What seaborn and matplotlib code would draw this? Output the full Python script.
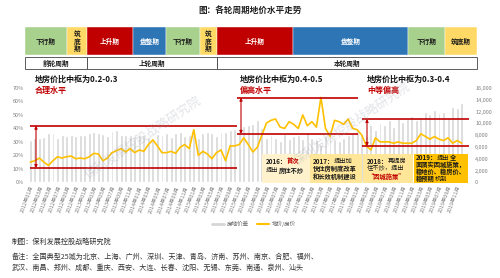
import matplotlib
matplotlib.use('Agg')
import numpy as np
import pandas as pd
import seaborn as sns
import matplotlib.pyplot as plt
from matplotlib.patches import Rectangle
from matplotlib.lines import Line2D

# ---------------- data ----------------
years = [2012, 2013, 2014, 2015, 2016, 2017, 2018, 2019]
months = [f"{y}年{m:02d}月" for y in years for m in range(1, 13)]

# grey bars (right axis)
price_gap = [
    7100, 7600, 7500, 7700, 8300, 8400, 7600, 8000, 7900, 8100, 7800, 8000,
    8000, 8300, 8500, 8400, 8200, 7900, 8700, 8800, 8100, 8100, 8000, 7900,
    8100, 8000, 7700, 7500, 8200, 8000, 8300, 7700, 8300, 8600, 7800, 8100,
    8600, 7600, 8300, 8600, 8400, 7900, 8600, 8500, 8900, 9000, 9100, 9600,
    9700, 9900, 10600, 9200, 7500, 8000, 7600, 7000, 8200, 7400, 7800, 8000,
    7300, 8500, 7600, 7200, 6500, 7800, 8200, 7400, 7000, 7600, 8100, 8400,
    8800, 8200, 7900, 9700, 8900, 10100, 9800, 10600, 9300, 10900, 10200, 10800,
    11300, 10600, 11000, 12000, 11600, 12200, 11800, 12000, 10900, 12800, 12600, 13500,
]
# yellow line (left axis)
land_house_ratio = [
    0.15, 0.16, 0.18, 0.15, 0.125, 0.16, 0.19, 0.18, 0.19, 0.195, 0.175, 0.18,
    0.175, 0.19, 0.215, 0.21, 0.16, 0.18, 0.22, 0.235, 0.25, 0.225, 0.25, 0.22,
    0.24, 0.23, 0.28, 0.315, 0.27, 0.22, 0.22, 0.23, 0.215, 0.26, 0.28, 0.25,
    0.39, 0.20, 0.23, 0.21, 0.175, 0.22, 0.24, 0.16, 0.27, 0.27, 0.28, 0.33,
    0.28, 0.225, 0.26, 0.35, 0.44, 0.46, 0.47, 0.41, 0.40, 0.45, 0.43, 0.40,
    0.50, 0.42, 0.45, 0.41, 0.63, 0.40, 0.34, 0.46, 0.45, 0.43, 0.47, 0.40,
    0.39, 0.35, 0.27, 0.24, 0.33, 0.30, 0.30, 0.30, 0.29, 0.30, 0.29, 0.29,
    0.29, 0.31, 0.36, 0.34, 0.32, 0.34, 0.32, 0.31, 0.33, 0.29, 0.31, 0.29,
]

title = "图：各轮周期地价水平走势"
phase_names = ['下行期', '筑底期', '上升期', '盘整期', '下行期', '筑底期', '上升期', '盘整期', '下行期', '筑底期']
cycle_names = ['前轮周期', '上轮周期', '本轮周期']
left_ticks = [0, 0.1, 0.2, 0.3, 0.4, 0.5, 0.6, 0.7]
right_ticks = [0, 2000, 4000, 6000, 8000, 10000, 12000, 14000, 16000]
legend_labels = ['房地价差', '地价/房价']
regime_titles = ['地房价比中枢为0.2-0.3', '地房价比中枢为0.4-0.5', '地房价比中枢为0.3-0.4']
regime_levels = ['合理水平', '偏高水平', '中等偏高']
regime_bounds = [(0.106, 0.42), (0.36, 0.628), (0.27, 0.47)]
footer = ["制图：保利发展控股战略研究院",
          "备注：全国典型25城为北京、上海、广州、深圳、天津、青岛、济南、苏州、南京、合肥、福州、",
          "武汉、南昌、郑州、成都、重庆、西安、大连、长春、沈阳、无锡、东莞、南通、泉州、汕头"]
watermark = "保利发展控股战略研究院"

# ---------------- layout / styles ----------------
FAM = ['Noto Sans CJK SC', 'DejaVu Sans']
sns.set_theme(style='white')
plt.rcParams['font.family'] = FAM
plt.rcParams['axes.unicode_minus'] = False

W, H = 500, 278
fig = plt.figure(figsize=(W / 100, H / 100), dpi=100)
fig.patch.set_facecolor('white')


def X(px):
    return px / W


def Y(py):
    return 1 - py / H


RED = '#C00000'
GOLD = '#FFC000'
GREY = '#D6D6D6'
phase_colors = {'下行期': '#A9D18E', '筑底期': '#FFD966', '上升期': '#C00000', '盘整期': '#2E75B6'}
phase_edges = [25, 67, 87, 133, 166, 200, 217, 293, 408, 445, 477]
cycle_edges = [25, 87, 217, 477]

fig.text(0.5, Y(10), title, ha='center', va='center', fontsize=6.2, fontweight='bold', color='#222222')

for k, name in enumerate(phase_names):
    x0, x1 = phase_edges[k], phase_edges[k + 1]
    fig.patches.append(Rectangle((X(x0), Y(55)), X(x1) - X(x0), (55 - 27) / H,
                                 transform=fig.transFigure, facecolor=phase_colors[name],
                                 edgecolor='white', linewidth=0.3))
    tc = 'white' if name in ('上升期', '盘整期') else '#1a1a1a'
    txt = name
    if name == '筑底期' and (x1 - x0) < 25:
        txt = '\n'.join(name)
    fig.text(X((x0 + x1) / 2), Y(41), txt, ha='center', va='center', fontsize=4.8,
             fontweight='bold', color=tc, linespacing=1.1)

for k, name in enumerate(cycle_names):
    x0, x1 = cycle_edges[k], cycle_edges[k + 1]
    fig.patches.append(Rectangle((X(x0), Y(69)), X(x1) - X(x0), (69 - 57) / H,
                                 transform=fig.transFigure, facecolor='white',
                                 edgecolor='#444444', linewidth=0.6))
    fig.text(X((x0 + x1) / 2), Y(63), name, ha='center', va='center', fontsize=4.8,
             fontweight='bold', color='#1a1a1a')

L, R, T, B = 28, 464, 88, 182.3
rect = [X(L), Y(B), X(R) - X(L), (B - T) / H]
ax_bar = fig.add_axes(rect)
ax_line = fig.add_axes(rect, facecolor='none')

df = pd.DataFrame({'month': months, 'gap': price_gap, 'ratio': land_house_ratio,
                   'idx': np.arange(len(months))})

sns.barplot(data=df, x='month', y='gap', ax=ax_bar, color=GREY, saturation=1,
            width=0.65, order=months)
sns.lineplot(data=df, x='idx', y='ratio', ax=ax_line, color=GOLD, linewidth=1.2)

n = len(months)
for a in (ax_bar, ax_line):
    a.set_xlim(-0.5, n - 0.5)
    for s in a.spines.values():
        s.set_visible(False)
    a.set_xlabel('')
    a.set_ylabel('')
    a.grid(False)

ax_bar.set_ylim(0, 16000)
ax_bar.yaxis.tick_right()
ax_bar.set_yticks(right_ticks)
ax_bar.set_yticklabels([f"{v:,}" for v in right_ticks], fontsize=4, color='#808080')
ax_bar.set_xticks(range(0, n, 2))
ax_bar.set_xticklabels(months[::2], rotation=70, ha='right', rotation_mode='anchor',
                       fontsize=3.9, color='#808080')
ax_bar.tick_params(axis='x', length=0, pad=2)
ax_bar.tick_params(axis='y', length=0, pad=8)

ax_line.set_ylim(0, 0.7)
ax_line.set_yticks(left_ticks)
ax_line.set_yticklabels([f"{int(round(v * 100))}%" for v in left_ticks], fontsize=4, color='#808080')
ax_line.set_xticks([])
ax_line.tick_params(axis='y', length=0, pad=3)


def px2i(px):
    return (px - L) / (R - L) * n - 0.5


regime_x = [(30, 237, 36), (237, 358, 241), (362, 469, 367)]
for (lo, hi), (x0, x1, xa) in zip(regime_bounds, regime_x):
    for yv in (lo, hi):
        ax_line.plot([px2i(x0), px2i(x1)], [yv, yv], color=RED, lw=1.2, clip_on=False,
                     solid_capstyle='butt', zorder=5)
    ax_line.annotate('', xy=(px2i(xa), hi), xytext=(px2i(xa), lo),
                     arrowprops=dict(arrowstyle='<|-|>', color=RED, lw=0.8,
                                     mutation_scale=4, shrinkA=0, shrinkB=0), zorder=6)

regime_text_x = [35, 240, 367]
for k in range(3):
    fig.text(X(regime_text_x[k]), Y(79), regime_titles[k], ha='left', va='center',
             fontsize=5.8, fontweight='bold', color='#111111')
    fig.text(X(regime_text_x[k]), Y(90), regime_levels[k], ha='left', va='center',
             fontsize=5.8, fontweight='bold', color=RED)

fig.text(X(143), Y(137), watermark, ha='center', va='center', rotation=34,
         fontsize=9, color='#a0a4b0', alpha=0.3)
fig.text(X(352), Y(123), watermark, ha='center', va='center', rotation=34,
         fontsize=9, color='#a0a4b0', alpha=0.3)

box_edges = [(262, 310, '#FFF2CC'), (310, 362, '#FFE699'), (363, 413, '#FFE699'), (414, 468, '#FFC000')]
for x0, x1, c in box_edges:
    fig.patches.append(Rectangle((X(x0), Y(183)), X(x1) - X(x0), (183 - 153.5) / H,
                                 transform=fig.transFigure, facecolor=c, edgecolor='none',
                                 zorder=3))

fig.canvas.draw()
renderer = fig.canvas.get_renderer()
BLK = '#1a1a1a'


def rich(x_px, y_px, pieces, size=4.5):
    x = x_px
    for txt, color, weight in pieces:
        t = fig.text(X(x), Y(y_px), txt, color=color, fontweight=weight, fontsize=size,
                     ha='left', va='center', zorder=10)
        bb = t.get_window_extent(renderer=renderer)
        x += bb.width


box_texts = [
    (266, [161, 170], [[("2016：", BLK, 'bold'), ("首次", RED, 'bold')],
                       [("提出", BLK, 'normal'), ("房住不炒", BLK, 'bold')]]),
    (313, [161, 168.5, 176], [[("2017：", BLK, 'bold'), ("提出加", BLK, 'normal')],
                              [("快住房制度改革", BLK, 'bold')],
                              [("和长效机制建设", BLK, 'bold')]]),
    (367, [161, 168.5, 176], [[("2018：", BLK, 'bold'), ("再提房", BLK, 'normal')],
                              [("住不炒，提出", BLK, 'normal')],
                              [("“因城施策”", RED, 'bold')]]),
    (416, [157.5, 164.5, 171.5, 178.5], [[("2019：", BLK, 'bold'), ("提出", BLK, 'normal'), ("全", BLK, 'bold')],
                                         [("面落实因城施策，", BLK, 'bold')],
                                         [("稳地价、稳房价、", BLK, 'bold')],
                                         [("稳预期", BLK, 'bold'), ("机制", BLK, 'normal')]]),
]
for x0, ys, lines in box_texts:
    for yy, pieces in zip(ys, lines):
        rich(x0, yy, pieces)

handles = [Line2D([0], [0], color=GREY, lw=2), Line2D([0], [0], color=GOLD, lw=1.5)]
fig.legend(handles, legend_labels, loc='center', bbox_to_anchor=(X(254), Y(224)),
           bbox_transform=fig.transFigure, ncol=2,
           frameon=False, fontsize=4, handlelength=2.2, columnspacing=1.5, handletextpad=0.5,
           labelcolor='#666666')

fig.text(X(12), Y(242), footer[0], ha='left', va='center', fontsize=5.1, color='#333333')
fig.text(X(12), Y(257), footer[1], ha='left', va='center', fontsize=5.1, color='#333333')
fig.text(X(12), Y(268), footer[2], ha='left', va='center', fontsize=5.1, color='#333333')

fig.savefig('out.png', dpi=100, facecolor='white')
